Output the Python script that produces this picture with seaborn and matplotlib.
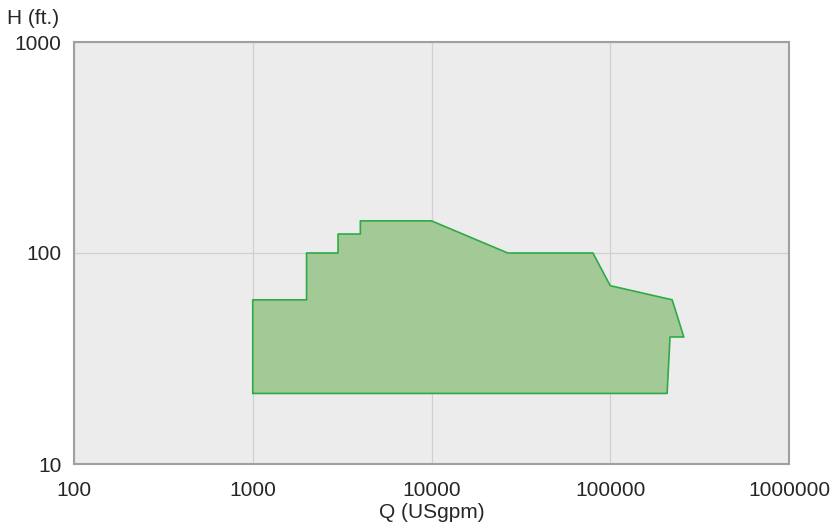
import numpy as np
import pandas as pd
import matplotlib
matplotlib.use('Agg')
import matplotlib.pyplot as plt
import seaborn as sns

# operating range envelope (Q in USgpm, H in ft.)
q_pts = [1000, 1000, 2000, 2000, 3000, 3000, 4000, 4000, 10000, 26700,
         80000, 100000, 222000, 258000, 216000, 208000, 1000]
h_pts = [21.6, 60, 60, 100, 100, 123, 123, 142, 142, 100,
         100, 70, 60, 40, 40, 21.6, 21.6]

x_ticks = [100, 1000, 10000, 100000, 1000000]
y_ticks = [10, 100, 1000]

sns.set_style('white')
plt.rcParams['font.family'] = ['Liberation Sans', 'DejaVu Sans']
fs = 15

df = pd.DataFrame({'Q': q_pts, 'H': h_pts})

fig = plt.figure(figsize=(8.34, 5.32), dpi=100)
ax = fig.add_axes([74/834, 68/532, 715/834, 422/532])
ax.set_facecolor('#ececec')

ax.set_xscale('log')
ax.set_yscale('log')
ax.set_xlim(100, 1000000)
ax.set_ylim(10, 1000)

# Draw the envelope
ax.fill(df['Q'], df['H'], facecolor='#a3c996', edgecolor='none', zorder=2)
sns.lineplot(data=df, x='Q', y='H', sort=False, estimator=None,
             color='#2eaa47', linewidth=1.2, ax=ax, zorder=3)

# Decorations
ax.set_xticks(x_ticks)
ax.set_xticklabels([str(v) for v in x_ticks], fontsize=fs)
ax.set_yticks(y_ticks)
ax.set_yticklabels([str(v) for v in y_ticks], fontsize=fs)
ax.minorticks_off()
ax.tick_params(axis='x', length=0, pad=12)
ax.tick_params(axis='y', length=0, pad=9)
ax.grid(True, which='major', color='#d0d0d0', linewidth=0.9, zorder=1)
ax.set_axisbelow(True)
for s in ax.spines.values():
    s.set_color('#a0a0a0')
    s.set_linewidth(1.5)

ax.set_xlabel('')
ax.set_ylabel('')
fig.text(432/834, 1 - 513/532, 'Q (USgpm)', fontsize=fs, ha='center', va='center')
fig.text(7/834, 1 - 18/532, 'H (ft.)', fontsize=fs, ha='left', va='center')

fig.savefig('out.png', dpi=100)
